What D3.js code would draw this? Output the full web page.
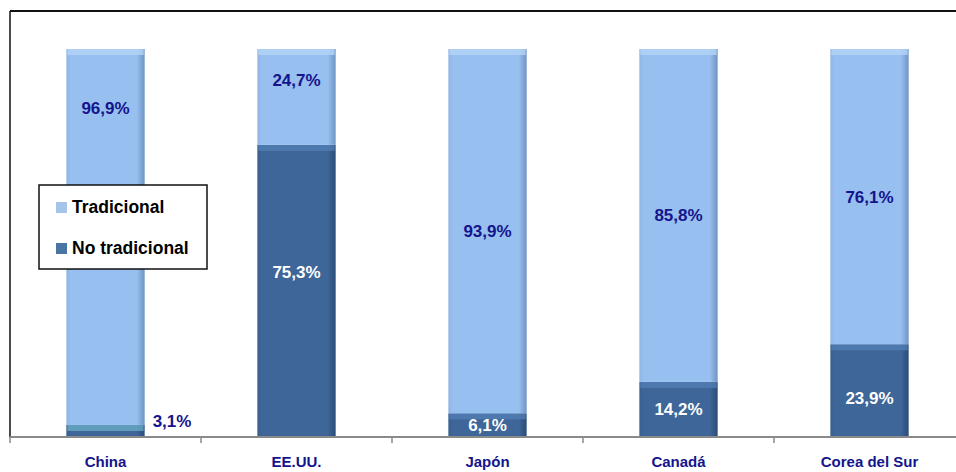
<!DOCTYPE html>
<html>
<head>
<meta charset="utf-8">
<script src="https://cdn.jsdelivr.net/npm/d3@7"></script>
<style>
  body { margin: 0; background: #fff; }
  text { font-family: "Liberation Sans", Arial, sans-serif; font-weight: bold; }
</style>
</head>
<body>
<div id="chart"></div>
<script>
// Data
const categories = ["China", "EE.UU.", "Japón", "Canadá", "Corea del Sur"];
const noTradicional = [3.1, 75.3, 6.1, 14.2, 23.9];
const tradicional = [96.9, 24.7, 93.9, 85.8, 76.1];
const seriesNames = ["Tradicional", "No tradicional"];

const W = 956, H = 472;
const plot = {left: 10, right: 965, top: 49, bottom: 437};

const svg = d3.select("#chart").append("svg")
    .attr("width", W)
    .attr("height", H);

const defs = svg.append("defs");
function barGradient(id, c1, c2, c3) {
  const g = defs.append("linearGradient").attr("id", id)
    .attr("x1", 0).attr("x2", 1).attr("y1", 0).attr("y2", 0);
  g.append("stop").attr("offset", "0%").attr("stop-color", c2);
  g.append("stop").attr("offset", "6%").attr("stop-color", c1);
  g.append("stop").attr("offset", "90%").attr("stop-color", c1);
  g.append("stop").attr("offset", "100%").attr("stop-color", c3);
}
barGradient("gLight", "#97bff0", "#8fb5e4", "#6f94c4");
barGradient("gDark", "#3e6698", "#37608f", "#2a4c78");

// Scales
const x = d3.scaleBand()
    .domain(categories)
    .range([plot.left, plot.right])
    .paddingInner(0.59)
    .paddingOuter(0.295);

const y = d3.scaleLinear()
    .domain([0, 100])
    .range([plot.bottom, plot.top]);

// Frame (top and left)
svg.append("line").attr("x1", 10).attr("x2", W).attr("y1", 11).attr("y2", 11)
  .attr("stroke", "#111").attr("stroke-width", 2);
svg.append("line").attr("x1", 10).attr("x2", 10).attr("y1", 11).attr("y2", plot.bottom)
  .attr("stroke", "#111").attr("stroke-width", 1.5);

// Stacked data
const rows = categories.map((c, i) => ({cat: c, no: noTradicional[i], tr: tradicional[i]}));

const bars = svg.append("g").selectAll("g.bar")
  .data(rows)
  .join("g").attr("class", "bar");

// No tradicional (bottom)
bars.append("rect")
  .attr("x", d => x(d.cat))
  .attr("width", x.bandwidth())
  .attr("y", d => y(d.no))
  .attr("height", d => y(0) - y(d.no))
  .attr("fill", "url(#gDark)");
bars.append("rect")
  .attr("x", d => x(d.cat) + 1)
  .attr("width", x.bandwidth() - 2)
  .attr("y", d => y(d.no))
  .attr("height", d => Math.min(6, y(0) - y(d.no)))
  .attr("fill", d => d.no < 5 ? "#6fb3cc" : "#5682b8")
  .attr("opacity", 0.7);

// Tradicional (top)
bars.append("rect")
  .attr("x", d => x(d.cat))
  .attr("width", x.bandwidth())
  .attr("y", d => y(d.no + d.tr))
  .attr("height", d => y(d.no) - y(d.no + d.tr))
  .attr("fill", "url(#gLight)");
bars.append("rect")
  .attr("x", d => x(d.cat) + 1)
  .attr("width", x.bandwidth() - 2)
  .attr("y", d => y(d.no + d.tr))
  .attr("height", 6)
  .attr("fill", "#b4d4f6")
  .attr("opacity", 0.8);

// Labels: Tradicional
const labelOverrideTr = {"China": 84.8, "EE.UU.": 92};
bars.append("text")
  .attr("x", d => x(d.cat) + x.bandwidth() / 2)
  .attr("y", d => y(labelOverrideTr[d.cat] ?? (d.no + d.tr / 2)))
  .attr("dy", "0.35em")
  .attr("text-anchor", "middle")
  .attr("font-size", 17)
  .attr("fill", "#14148c")
  .text(d => d.tr.toFixed(1).replace(".", ",") + "%");

// Labels: No tradicional
const labelOverrideNo = {"EE.UU.": 42.5, "Corea del Sur": 10};
bars.append("text")
  .attr("x", d => d.no < 5 ? x(d.cat) + x.bandwidth() + 8 : x(d.cat) + x.bandwidth() / 2)
  .attr("y", d => d.no < 5 ? y(4) : y(labelOverrideNo[d.cat] ?? d.no / 2))
  .attr("dy", "0.35em")
  .attr("text-anchor", d => d.no < 5 ? "start" : "middle")
  .attr("font-size", 17)
  .attr("fill", d => d.no < 5 ? "#14148c" : "#fff")
  .text(d => d.no.toFixed(1).replace(".", ",") + "%");

// X axis
const xAxis = svg.append("g");
xAxis.append("line")
  .attr("x1", plot.left).attr("x2", W)
  .attr("y1", plot.bottom).attr("y2", plot.bottom)
  .attr("stroke", "#8a8a8a").attr("stroke-width", 2);
xAxis.selectAll("line.tick")
  .data(categories)
  .join("line").attr("class", "tick")
  .attr("x1", d => x(d) - x.step() * x.paddingOuter())
  .attr("x2", d => x(d) - x.step() * x.paddingOuter())
  .attr("y1", plot.bottom).attr("y2", plot.bottom + 6)
  .attr("stroke", "#8a8a8a").attr("stroke-width", 1.5);
xAxis.selectAll("text")
  .data(categories)
  .join("text")
  .attr("x", d => x(d) + x.bandwidth() / 2)
  .attr("y", 462)
  .attr("dy", "0.35em")
  .attr("text-anchor", "middle")
  .attr("font-size", 15)
  .attr("fill", "#14148c")
  .text(d => d);

// Legend
const legend = svg.append("g").attr("transform", "translate(39,185)");
legend.append("rect")
  .attr("width", 168).attr("height", 84)
  .attr("fill", "#fff").attr("stroke", "#111").attr("stroke-width", 1.5);
const legendColors = ["#a4c4ea", "#4a74a4"];
seriesNames.forEach((name, i) => {
  const gy = 22 + i * 41;
  legend.append("rect")
    .attr("x", 17).attr("y", gy - 5)
    .attr("width", 11).attr("height", 11)
    .attr("fill", legendColors[i]);
  legend.append("text")
    .attr("x", 33).attr("y", gy)
    .attr("dy", "0.35em")
    .attr("font-size", 17.5)
    .attr("fill", "#000")
    .text(name);
});
</script>
</body>
</html>
